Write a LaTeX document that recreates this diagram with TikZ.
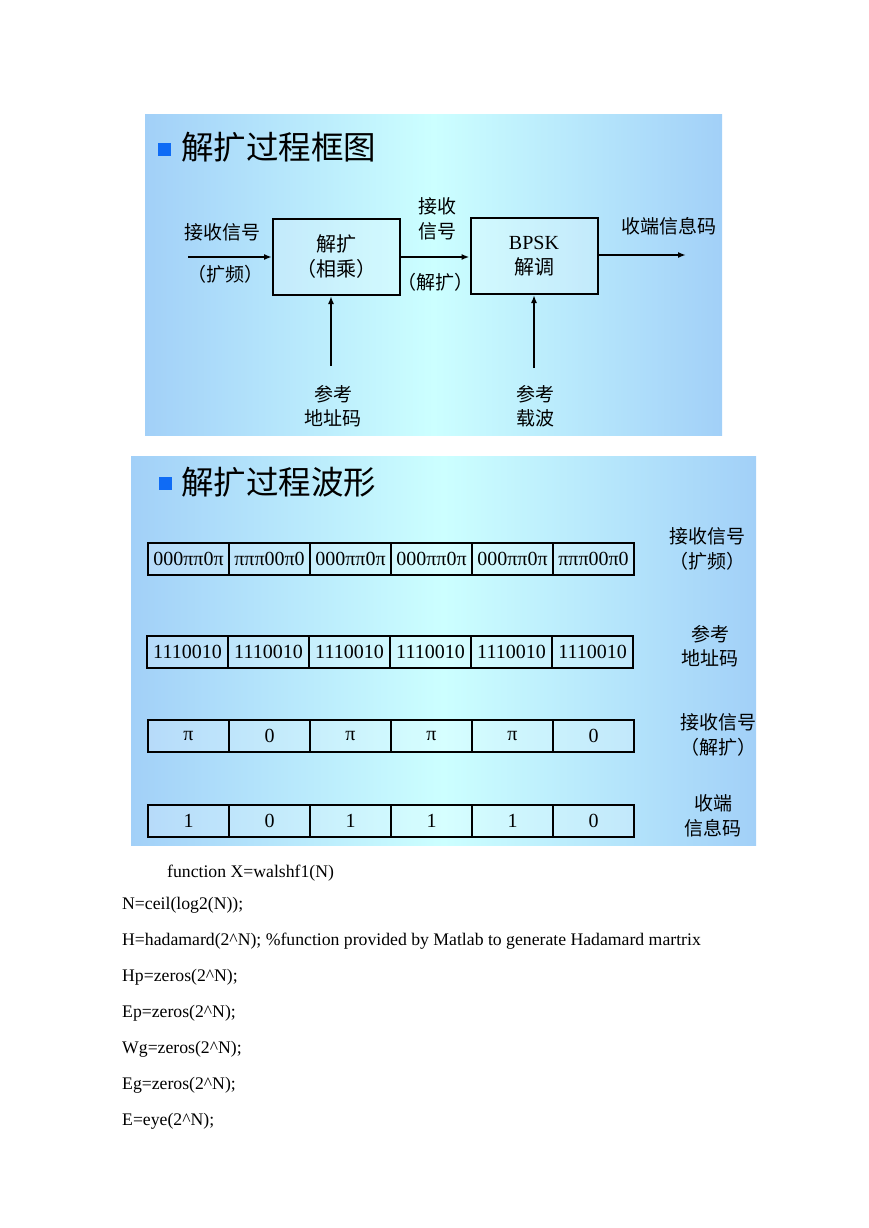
\documentclass[tikz,border=0pt]{standalone}
\usepackage{fontspec}
\setmainfont{Liberation Serif}
\newfontfamily\cjk{Noto Sans CJK SC}
\usetikzlibrary{arrows.meta,positioning,calc}
\definecolor{PanelEdge}{HTML}{A2D0F8}
\definecolor{PanelMid}{HTML}{CCFFFF}
\definecolor{Bullet}{HTML}{0F6BF5}
\tikzset{
 panel/.style={left color=PanelEdge, right color=PanelEdge, middle color=PanelMid},
 bullet/.style={fill=Bullet, minimum size=13pt, inner sep=0pt},
 title/.style={anchor=west, inner sep=0pt, font=\cjk\fontsize{32.5}{36}\selectfont},
 lbl/.style={align=center, inner sep=1pt, font=\cjk\fontsize{19}{24.5}\selectfont},
 block/.style={draw, line width=2pt, fill=white, fill opacity=0.2, text opacity=1, minimum width=127pt, minimum height=76pt, align=center, font=\fontsize{20}{25}\selectfont},
 cell/.style={draw, line width=2pt, fill=white, fill opacity=0.2, text opacity=1, minimum width=81pt, minimum height=32pt, inner sep=0pt, font=\fontsize{20}{24}\selectfont},
 arrow/.style={-{Latex[length=8pt,width=6pt]}, line width=1.8pt},
 code/.style={anchor=west, inner sep=0pt, font=\fontsize{17.7}{20}\selectfont}
}
\begin{document}
\begin{tikzpicture}[x=1pt,y=-1pt]
\fill[white] (0,0) rectangle (869,1228);
\useasboundingbox (0,0) rectangle (869,1228);

% block diagram
\shade[panel] (145,115) rectangle (722,435);
\node[bullet] (b1) at (164,149) {};
\node[title] (t1) at (181,147) {解扩过程框图};
\node[block] (despread) at (336.5,257) {{\cjk 解扩}\\{\cjk （相乘）}};
\node[block] (demod) at (534,256) {BPSK\\{\cjk 解调}};
\coordinate (in) at (188,257);
\coordinate (out) at (686,255);
\coordinate (addr) at (331,366);
\coordinate (carrier) at (534,368);
\draw[arrow] (in) -- (in -| despread.west);
\draw[arrow] (despread.east) -- (despread.east -| demod.west);
\draw[arrow] (demod.east |- out) -- (out);
\draw[arrow] (addr) -- (addr |- despread.south);
\draw[arrow] (carrier) -- (carrier |- demod.south);
\node[lbl] (rx) at (222,232) {接收信号};
\node[lbl] (rxs) at (225,274) {（扩频）};
\node[lbl] (mid) at (437,219) {接收\\信号};
\node[lbl] (mids) at (435,282) {（解扩）};
\node[lbl] (info) at (669,226) {收端信息码};
\node[lbl] (addrl) at (333,406) {参考\\地址码};
\node[lbl] (carrl) at (535,406) {参考\\载波};

% waveforms
\shade[panel] (131,456) rectangle (756,845);
\node[bullet] (b2) at (165,483) {};
\node[title] (t2) at (181,482) {解扩过程波形};
\foreach \t [count=\i] in {000ππ0π, πππ00π0, 000ππ0π, 000ππ0π, 000ππ0π, πππ00π0}
 \node[cell] (ra\i) at ({188.5+81*(\i-1)},559) {\t};
\foreach \t [count=\i] in {1110010,1110010,1110010,1110010,1110010,1110010}
 \node[cell] (rb\i) at ({187.5+81*(\i-1)},652) {\t};
\foreach \t [count=\i] in {π,0,π,π,π,0}
 \node[cell] (rc\i) at ({188.5+81*(\i-1)},736) {\t};
\foreach \t [count=\i] in {1,0,1,1,1,0}
 \node[cell] (rd\i) at ({188.5+81*(\i-1)},821) {\t};
\node[lbl] (la) at (707,549) {接收信号\\（扩频）};
\node[lbl] (lb) at (710,646) {参考\\地址码};
\node[lbl] (lc) at (718,735) {接收信号\\（解扩）};
\node[lbl] (ld) at (713,816) {收端\\信息码};

% code
\node[code] (c1) at (167,873) {function X=walshf1(N)};
\node[code] (c2) at (122,905) {N=ceil(log2(N));};
\node[code] (c3) at (122,941) {H=hadamard(2\^{}N); \%function provided by Matlab to generate Hadamard martrix};
\node[code] (c4) at (122,977) {Hp=zeros(2\^{}N);};
\node[code] (c5) at (122,1013) {Ep=zeros(2\^{}N);};
\node[code] (c6) at (122,1049) {Wg=zeros(2\^{}N);};
\node[code] (c7) at (122,1085) {Eg=zeros(2\^{}N);};
\node[code] (c8) at (122,1121) {E=eye(2\^{}N);};
\end{tikzpicture}
\end{document}
